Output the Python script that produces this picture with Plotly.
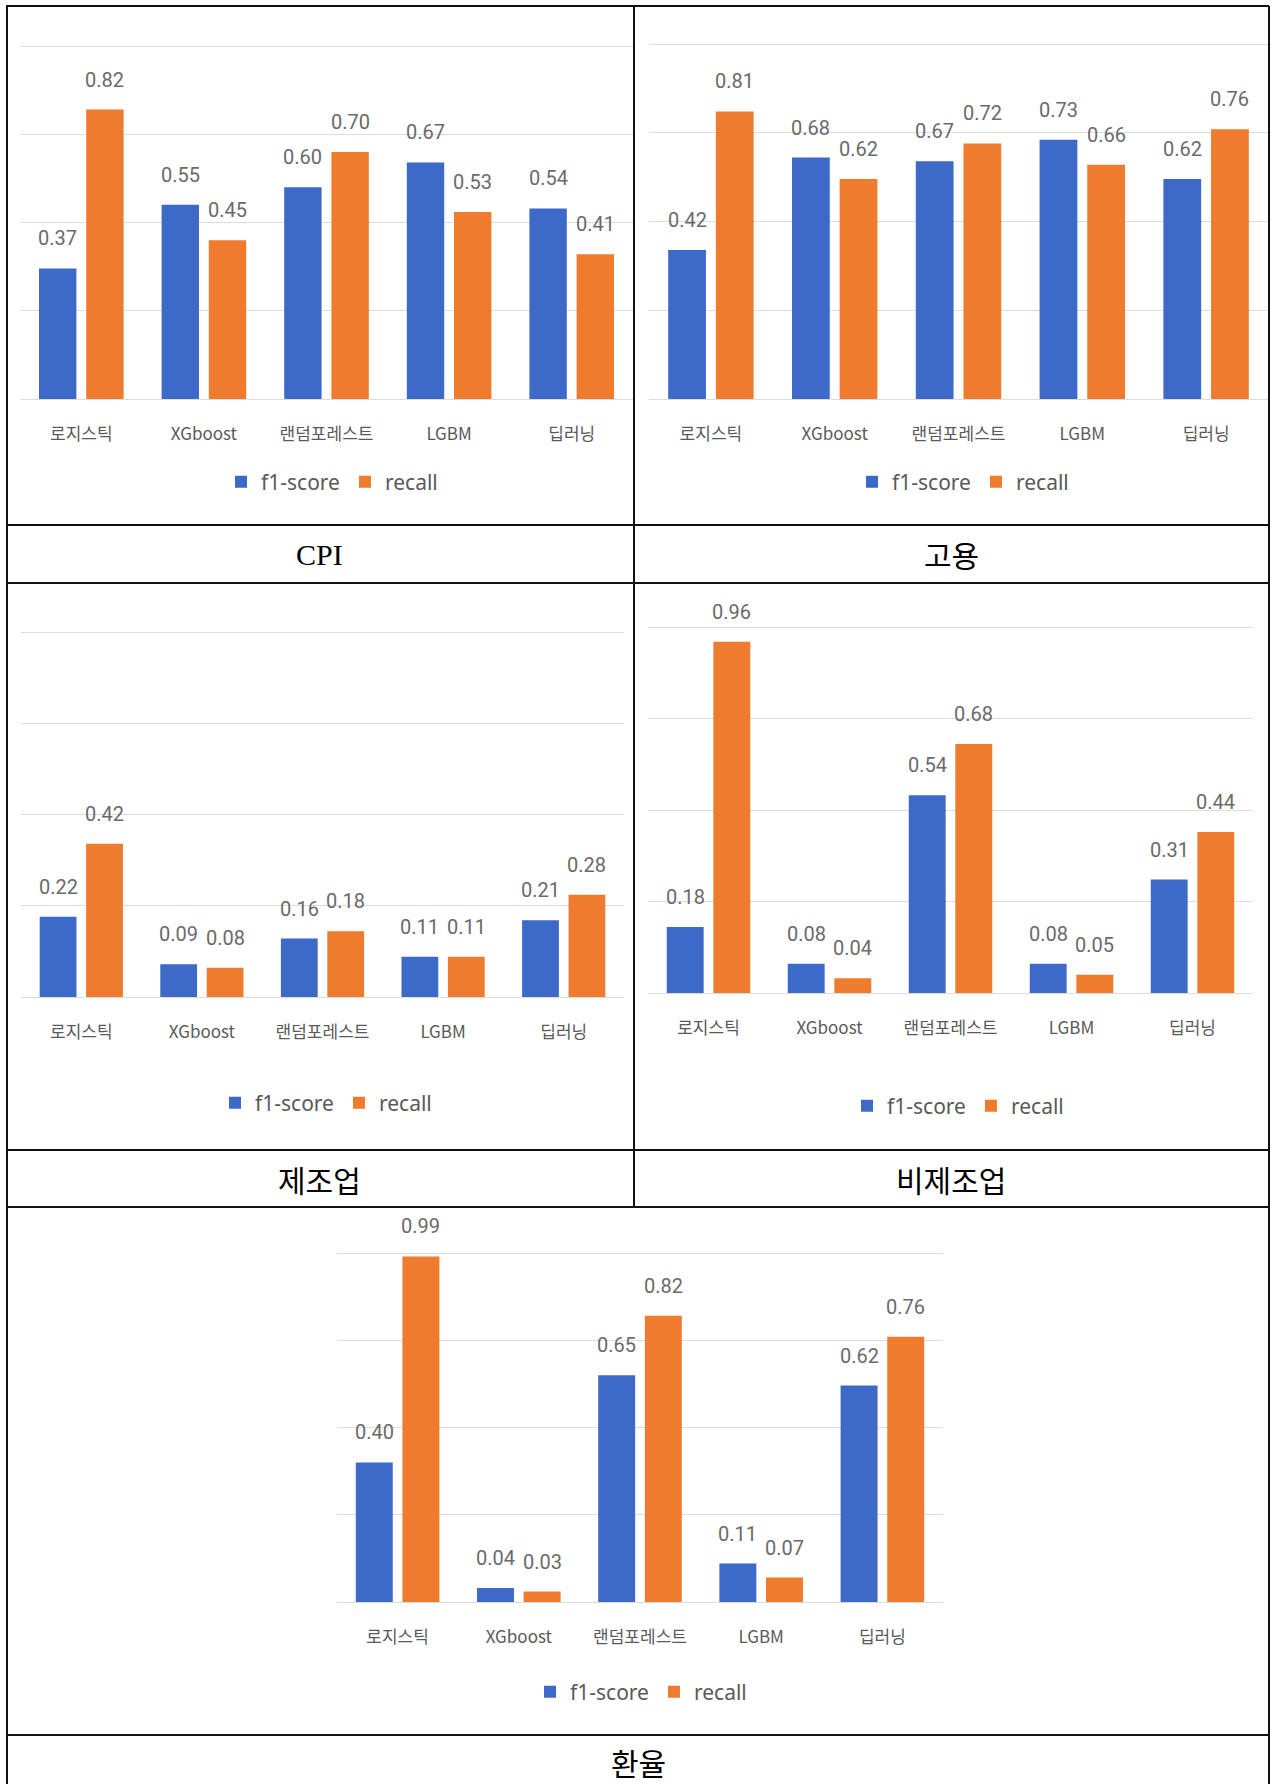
import plotly.graph_objects as go

W, H = 1276, 1784

# Models compared in each panel (x-axis categories)
models = ["로지스틱", "XGboost", "랜덤포레스트", "LGBM", "딥러닝"]
series_names = ["f1-score", "recall"]

# Scores per indicator
cpi_f1 = [0.37, 0.55, 0.60, 0.67, 0.54]
cpi_recall = [0.82, 0.45, 0.70, 0.53, 0.41]

emp_f1 = [0.42, 0.68, 0.67, 0.73, 0.62]
emp_recall = [0.81, 0.62, 0.72, 0.66, 0.76]

mfg_f1 = [0.22, 0.09, 0.16, 0.11, 0.21]
mfg_recall = [0.42, 0.08, 0.18, 0.11, 0.28]

nonmfg_f1 = [0.18, 0.08, 0.54, 0.08, 0.31]
nonmfg_recall = [0.96, 0.04, 0.68, 0.05, 0.44]

fx_f1 = [0.40, 0.04, 0.65, 0.11, 0.62]
fx_recall = [0.99, 0.03, 0.82, 0.07, 0.76]

captions = ["CPI", "고용", "제조업", "비제조업", "환율"]
y_ticks = [0, 0.25, 0.5, 0.75, 1.0]
Y_MAX = 1.05  # a little headroom so the 1.0 gridline is drawn

BLUE = "#3d69c9"
ORANGE = "#ef7b2e"
GRID = "#dcdcdc"
LABEL = "#6a6a6a"
TICK = "#595959"
KR_FONT = "Noto Sans CJK KR"

BAR_W = 0.305
OFFSETS = [-0.345, 0.04]


def px(x):
    return x / W


def py(y):
    return 1 - y / H


# Panel placement inside the table (pixels): base = value 0, top = value 1.0
panels = [
    dict(f1=cpi_f1, rc=cpi_recall, x0=20, x1=633, base=399, top=46,
         leg=(332, 482), cap=(320, 554), capfont="Liberation Serif"),
    dict(f1=emp_f1, rc=emp_recall, x0=649, x1=1268, base=399, top=44,
         leg=(963, 482), cap=(951, 554), capfont=KR_FONT),
    dict(f1=mfg_f1, rc=mfg_recall, x0=21, x1=624, base=997, top=632,
         leg=(326, 1103), cap=(320, 1179), capfont=KR_FONT),
    dict(f1=nonmfg_f1, rc=nonmfg_recall, x0=648, x1=1253, base=993, top=627,
         leg=(958, 1106), cap=(951, 1179), capfont=KR_FONT),
    dict(f1=fx_f1, rc=fx_recall, x0=337, x1=943, base=1602, top=1253,
         leg=(641, 1692), cap=(638, 1762), capfont=KR_FONT),
]

fig = go.Figure()
annotations = []
layout = {}

for k, p in enumerate(panels):
    n = k + 1
    xa = "x" if n == 1 else f"x{n}"
    ya = "y" if n == 1 else f"y{n}"
    leg = "legend" if n == 1 else f"legend{n}"
    xs = list(range(len(models)))

    for s, (name, vals, color) in enumerate(
        [(series_names[0], p["f1"], BLUE), (series_names[1], p["rc"], ORANGE)]
    ):
        fig.add_trace(go.Bar(
            x=xs, y=vals, name=name, xaxis=xa, yaxis=ya, legend=leg,
            width=BAR_W, offset=OFFSETS[s],
            marker=dict(color=color, line=dict(width=0)),
            hoverinfo="skip",
        ))
        for i, v in enumerate(vals):
            annotations.append(dict(
                x=i + OFFSETS[s] + BAR_W / 2, y=v, xref=xa, yref=ya,
                text=f"{v:.2f}", showarrow=False, yanchor="middle",
                yshift=30, font=dict(family="Roboto", size=20, color=LABEL),
            ))

    top_px = p["base"] - (p["base"] - p["top"]) * Y_MAX
    xkey = "xaxis" if n == 1 else f"xaxis{n}"
    ykey = "yaxis" if n == 1 else f"yaxis{n}"
    layout[xkey] = dict(
        domain=[px(p["x0"]), px(p["x1"])], anchor=ya,
        range=[-0.5, len(models) - 0.5], tickvals=xs, ticktext=models,
        showgrid=False, zeroline=False, showline=False, ticks="",
        ticklabelstandoff=23,
        tickfont=dict(family=KR_FONT, size=17, color=TICK),
        fixedrange=True,
    )
    layout[ykey] = dict(
        domain=[py(p["base"]), py(top_px)], anchor=xa,
        range=[0, Y_MAX], tickvals=y_ticks, showticklabels=False,
        showgrid=True, gridcolor=GRID, gridwidth=1.4,
        zeroline=True, zerolinecolor=GRID, zerolinewidth=1.4,
        showline=False, ticks="", fixedrange=True,
    )
    layout[leg] = dict(
        orientation="h", x=px(p["leg"][0]), y=py(p["leg"][1]),
        xanchor="center", yanchor="middle", bgcolor="rgba(0,0,0,0)",
        font=dict(family="Noto Sans", size=21, color=TICK),
        itemclick=False, itemdoubleclick=False,
    )
    annotations.append(dict(
        x=px(p["cap"][0]), y=py(p["cap"][1]), xref="paper", yref="paper",
        text=captions[k], showarrow=False, xanchor="center", yanchor="middle",
        font=dict(family=p["capfont"], size=30, color="#000000"),
    ))

# Table rules around the panels and captions
LINE = dict(color="#111111", width=2)
rules = [
    (6, 6, 1269, 6),
    (7, 6, 7, H),
    (1269, 6, 1269, H),
    (634, 6, 634, 1207),
    (7, 525, 1269, 525),
    (7, 583, 1269, 583),
    (7, 1150, 1269, 1150),
    (7, 1207, 1269, 1207),
    (7, 1735, 1269, 1735),
]
shapes = [
    dict(type="line", xref="paper", yref="paper",
         x0=px(a), y0=py(b), x1=px(c), y1=py(d), line=LINE)
    for a, b, c, d in rules
]

fig.update_layout(
    width=W, height=H, margin=dict(l=0, r=0, t=0, b=0),
    paper_bgcolor="white", plot_bgcolor="white",
    barmode="overlay", showlegend=True,
    annotations=annotations, shapes=shapes,
    **layout,
)

fig.write_html("out.html")
